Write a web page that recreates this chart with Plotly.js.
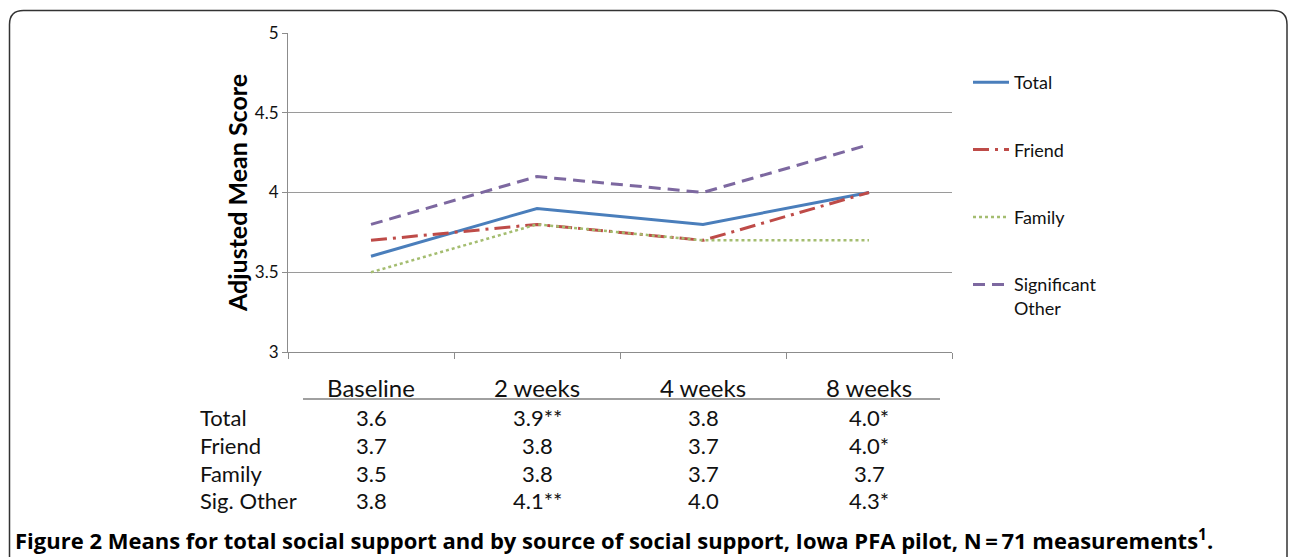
<!DOCTYPE html>
<html>
<head>
<meta charset="utf-8">
<script src="https://cdn.plot.ly/plotly-3.0.1.min.js"></script>
<style>
html,body{margin:0;padding:0;background:#fff;}
#chart{width:1290px;height:557px;}
</style>
</head>
<body>
<div id="chart"></div>
<script>
// ---- data ----
const categories = ['Baseline', '2 weeks', '4 weeks', '8 weeks'];
const seriesNames = ['Total', 'Friend', 'Family', 'Significant Other'];
const rowLabels = ['Total', 'Friend', 'Family', 'Sig. Other'];
const totalValues = [3.6, 3.9, 3.8, 4.0];
const friendValues = [3.7, 3.8, 3.7, 4.0];
const familyValues = [3.5, 3.8, 3.7, 3.7];
const sigOtherValues = [3.8, 4.1, 4.0, 4.3];
const totalMarks = ['', '**', '', '*'];
const friendMarks = ['', '', '', '*'];
const familyMarks = ['', '', '', ''];
const sigOtherMarks = ['', '**', '', '*'];
const yTicks = [3, 3.5, 4, 4.5, 5];
const captionText = '<b>Figure 2 Means for total social support and by source of social support, Iowa PFA pilot, N\u2009=\u200971 measurements<sup>1</sup>.</b>';

// ---- layout helpers (pixel -> paper) ----
const W = 1290, H = 557;
const L = 288, R = 952, T = 33, B = 352;
const px = v => (v - L) / (R - L);
const py = v => (B - v) / (B - T);
const FONT = 'Lato, Carlito, "Open Sans", sans-serif';

const seriesValues = [totalValues, friendValues, familyValues, sigOtherValues];
const seriesMarks = [totalMarks, friendMarks, familyMarks, sigOtherMarks];
const styles = [
  {color: '#4a7ebb', dash: 'solid', width: 3},
  {color: '#be4b48', dash: '16px,6px,3px,6px', width: 3},
  {color: '#a4bd70', dash: 'dot', width: 2.5},
  {color: '#7d68a0', dash: '12px,7px', width: 3}
];
const legendNames = ['Total', 'Friend', 'Family', 'Significant<br>Other'];

const traces = seriesValues.map((vals, i) => ({
  type: 'scatter', mode: 'lines',
  x: categories, y: vals,
  name: legendNames[i], legendgroup: 'g' + i,
  line: {color: styles[i].color, dash: styles[i].dash, width: styles[i].width},
  hoverinfo: 'x+y+name'
}));

const annotations = [];
// table row labels and values
const rowY = [417, 445, 473, 500];
rowLabels.forEach((lab, r) => {
  annotations.push({xref: 'paper', yref: 'paper', x: px(198), y: py(rowY[r]),
    xanchor: 'left', yanchor: 'middle', showarrow: false, text: lab,
    font: {family: FONT, size: 22, color: '#111'}});
  categories.forEach((c, j) => {
    annotations.push({xref: 'x', yref: 'paper', x: c, y: py(rowY[r]),
      xanchor: 'center', yanchor: 'middle', showarrow: false,
      text: seriesValues[r][j].toFixed(1) + seriesMarks[r][j],
      font: {family: FONT, size: 22, color: '#111'}});
  });
});
// caption
annotations.push({xref: 'paper', yref: 'paper', x: px(13), y: py(539),
  xanchor: 'left', yanchor: 'middle', showarrow: false, text: captionText,
  font: {family: '"Open Sans", Lato, sans-serif', size: 22, color: '#000'}});

// border with rounded top corners
const bx0 = px(9.5), bx1 = px(1287), byTop = py(10.5), byBot = py(600);
const rX = 14 / (R - L), rY = 14 / (B - T);
const borderPath = `M ${bx0},${byBot} L ${bx0},${byTop - rY} Q ${bx0},${byTop} ${bx0 + rX},${byTop} ` +
  `L ${bx1 - rX},${byTop} Q ${bx1},${byTop} ${bx1},${byTop - rY} L ${bx1},${byBot}`;

const shapes = [
  {type: 'path', xref: 'paper', yref: 'paper', path: borderPath,
   line: {color: '#333', width: 1.5}},
  {type: 'line', xref: 'paper', yref: 'paper', x0: px(303), x1: px(940), y0: py(399), y1: py(399),
   line: {color: '#808080', width: 1.5}}
];

const layout = {
  width: W, height: H,
  margin: {l: L, r: W - R, t: T, b: H - B, autoexpand: false},
  paper_bgcolor: '#fff', plot_bgcolor: '#fff',
  font: {family: FONT, color: '#111'},
  showlegend: true,
  legend: {x: px(968), y: py(64), xanchor: 'left', yanchor: 'top',
    font: {family: FONT, size: 18, color: '#111'}, tracegroupgap: 41,
    valign: 'top', bgcolor: 'rgba(0,0,0,0)', itemwidth: 36},
  xaxis: {type: 'category', range: [-0.5, 3.5], showgrid: false, zeroline: false,
    showline: true, linecolor: '#8c8c8c', linewidth: 1,
    ticks: 'outside', tickson: 'boundaries', ticklen: 6, tickcolor: '#8c8c8c',
    tickfont: {family: FONT, size: 24, color: '#111'}, ticklabelstandoff: 15,
    fixedrange: true},
  yaxis: {range: [3, 5], tickvals: yTicks, showgrid: true, gridcolor: '#9a9a9a', gridwidth: 1,
    zeroline: false, showline: true, linecolor: '#8c8c8c', linewidth: 1,
    ticks: 'outside', ticklen: 5, tickcolor: '#8c8c8c',
    tickfont: {family: FONT, size: 17, color: '#111'},
    title: {text: '<b>Adjusted Mean Score</b>', font: {family: FONT, size: 25, color: '#000'}, standoff: 0},
    automargin: false, fixedrange: true},
  annotations: annotations,
  shapes: shapes
};

Plotly.newPlot('chart', traces, layout, {displayModeBar: false, staticPlot: true});
</script>
</body>
</html>
